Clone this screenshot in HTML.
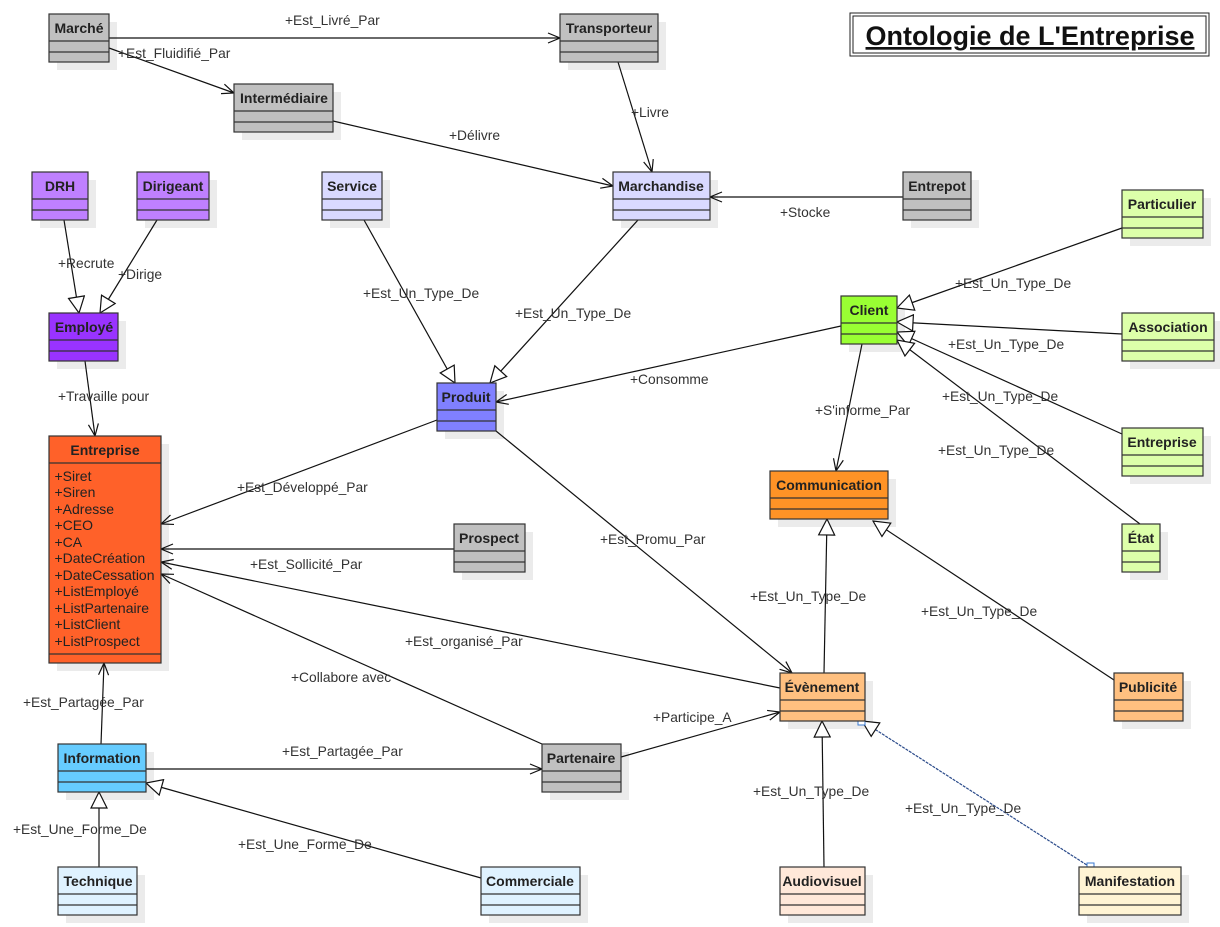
<!DOCTYPE html>
<html><head><meta charset="utf-8"><style>
html,body{margin:0;padding:0;background:#fff;}
svg{display:block;font-family:"Liberation Sans",sans-serif;}
.l{font-size:13.8px;fill:#333;}
.h{font-size:14px;font-weight:bold;fill:#222;text-anchor:middle;}
.a{font-size:14px;fill:#222;}
.e{stroke:#111;stroke-width:1.2;fill:none;}
</style></head><body>
<svg width="1220" height="927" viewBox="0 0 1220 927">
<defs>
<marker id="o" markerUnits="userSpaceOnUse" markerWidth="14" markerHeight="12" refX="13" refY="6" orient="auto"><path d="M1,1 L13,6 L1,11" fill="none" stroke="#111" stroke-width="1.2"/></marker>
<marker id="t" markerUnits="userSpaceOnUse" markerWidth="18" markerHeight="18" refX="17" refY="9" orient="auto"><path d="M1,1 L17,9 L1,17 z" fill="#fff" stroke="#111" stroke-width="1.2"/></marker>
</defs>
<g fill="#ebebeb">
<rect x="57" y="22" width="60" height="48"/><rect x="568" y="22" width="98" height="48"/><rect x="242" y="92" width="99" height="48"/>
<rect x="40" y="180" width="56" height="48"/><rect x="145" y="180" width="72" height="48"/><rect x="330" y="180" width="60" height="48"/>
<rect x="621" y="180" width="97" height="48"/><rect x="911" y="180" width="68" height="48"/><rect x="1130" y="198" width="81" height="48"/>
<rect x="849" y="304" width="56" height="48"/><rect x="1130" y="321" width="92" height="48"/><rect x="57" y="321" width="69" height="48"/>
<rect x="445" y="391" width="59" height="48"/><rect x="57" y="444" width="112" height="227"/><rect x="462" y="532" width="71" height="48"/>
<rect x="778" y="479" width="118" height="48"/><rect x="1130" y="436" width="81" height="48"/><rect x="1130" y="532" width="38" height="48"/>
<rect x="788" y="681" width="85" height="48"/><rect x="1122" y="681" width="69" height="48"/><rect x="66" y="752" width="88" height="48"/>
<rect x="550" y="752" width="79" height="48"/><rect x="66" y="875" width="79" height="48"/><rect x="489" y="875" width="99" height="48"/>
<rect x="788" y="875" width="85" height="48"/><rect x="1087" y="875" width="102" height="48"/>
</g>
<g class="e">
<line x1="109" y1="38" x2="560" y2="38" marker-end="url(#o)"/>
<line x1="109" y1="48" x2="234" y2="93" marker-end="url(#o)"/>
<line x1="333" y1="121" x2="613" y2="186" marker-end="url(#o)"/>
<line x1="618" y1="62" x2="652" y2="172" marker-end="url(#o)"/>
<line x1="903" y1="197" x2="710" y2="197" marker-end="url(#o)"/>
<line x1="64" y1="220" x2="79" y2="313" marker-end="url(#t)"/>
<line x1="157" y1="220" x2="100" y2="313" marker-end="url(#t)"/>
<line x1="364" y1="220" x2="455" y2="383" marker-end="url(#t)"/>
<line x1="638" y1="220" x2="490" y2="383" marker-end="url(#t)"/>
<line x1="841" y1="326" x2="496" y2="402" marker-end="url(#o)"/>
<line x1="1122" y1="228" x2="897" y2="308" marker-end="url(#t)"/>
<line x1="1122" y1="334" x2="897" y2="322" marker-end="url(#t)"/>
<line x1="1122" y1="434" x2="897" y2="332" marker-end="url(#t)"/>
<line x1="1140" y1="524" x2="897" y2="340" marker-end="url(#t)"/>
<line x1="862" y1="344" x2="836" y2="471" marker-end="url(#o)"/>
<line x1="85" y1="361" x2="95" y2="436" marker-end="url(#o)"/>
<line x1="437" y1="420" x2="161" y2="524" marker-end="url(#o)"/>
<line x1="454" y1="549" x2="161" y2="549" marker-end="url(#o)"/>
<line x1="780" y1="688" x2="161" y2="562" marker-end="url(#o)"/>
<line x1="542" y1="744" x2="161" y2="574" marker-end="url(#o)"/>
<line x1="496" y1="431" x2="792" y2="673" marker-end="url(#o)"/>
<line x1="824" y1="673" x2="827" y2="519" marker-end="url(#t)"/>
<line x1="1114" y1="680" x2="873" y2="521" marker-end="url(#t)"/>
<line x1="101" y1="744" x2="104" y2="663" marker-end="url(#o)"/>
<line x1="146" y1="769" x2="542" y2="769" marker-end="url(#o)"/>
<line x1="621" y1="757" x2="780" y2="712" marker-end="url(#o)"/>
<line x1="99" y1="867" x2="99" y2="792" marker-end="url(#t)"/>
<line x1="481" y1="878" x2="146" y2="783" marker-end="url(#t)"/>
<line x1="824" y1="867" x2="822" y2="721" marker-end="url(#t)"/>
<line x1="1090" y1="867" x2="862" y2="721" marker-end="url(#t)" stroke="#2a4a8a" stroke-dasharray="3,1"/>
</g>
<rect x="858" y="718" width="7" height="7" fill="#fff" stroke="#3a7ad0"/>
<rect x="1087" y="863" width="7" height="7" fill="#fff" stroke="#3a7ad0"/>
<g class="l">
<text x="285" y="25">+Est_Livré_Par</text>
<text x="118" y="58">+Est_Fluidifié_Par</text>
<text x="449" y="140">+Délivre</text>
<text x="631" y="117">+Livre</text>
<text x="780" y="217">+Stocke</text>
<text x="58" y="268">+Recrute</text>
<text x="118" y="279">+Dirige</text>
<text x="363" y="298">+Est_Un_Type_De</text>
<text x="515" y="318">+Est_Un_Type_De</text>
<text x="630" y="384">+Consomme</text>
<text x="955" y="288">+Est_Un_Type_De</text>
<text x="948" y="349">+Est_Un_Type_De</text>
<text x="942" y="401">+Est_Un_Type_De</text>
<text x="938" y="455">+Est_Un_Type_De</text>
<text x="815" y="415">+S'informe_Par</text>
<text x="58" y="401">+Travaille pour</text>
<text x="237" y="492">+Est_Développé_Par</text>
<text x="250" y="569">+Est_Sollicité_Par</text>
<text x="405" y="646">+Est_organisé_Par</text>
<text x="291" y="682">+Collabore avec</text>
<text x="600" y="544">+Est_Promu_Par</text>
<text x="750" y="601">+Est_Un_Type_De</text>
<text x="921" y="616">+Est_Un_Type_De</text>
<text x="23" y="707">+Est_Partagée_Par</text>
<text x="282" y="756">+Est_Partagée_Par</text>
<text x="653" y="722">+Participe_A</text>
<text x="13" y="834">+Est_Une_Forme_De</text>
<text x="238" y="849">+Est_Une_Forme_De</text>
<text x="753" y="796">+Est_Un_Type_De</text>
<text x="905" y="813">+Est_Un_Type_De</text>
</g>
<g stroke="#333" stroke-width="1.2">
<g fill="#c0c0c0"><rect x="49" y="14" width="60" height="48"/><path d="M49,41H109M49,52H109"/></g>
<g fill="#c0c0c0"><rect x="560" y="14" width="98" height="48"/><path d="M560,41H658M560,52H658"/></g>
<g fill="#c0c0c0"><rect x="234" y="84" width="99" height="48"/><path d="M234,111H333M234,122H333"/></g>
<g fill="#bf80ff"><rect x="32" y="172" width="56" height="48"/><path d="M32,199H88M32,210H88"/></g>
<g fill="#bf80ff"><rect x="137" y="172" width="72" height="48"/><path d="M137,199H209M137,210H209"/></g>
<g fill="#d9d9ff"><rect x="322" y="172" width="60" height="48"/><path d="M322,199H382M322,210H382"/></g>
<g fill="#d9d9ff"><rect x="613" y="172" width="97" height="48"/><path d="M613,199H710M613,210H710"/></g>
<g fill="#c0c0c0"><rect x="903" y="172" width="68" height="48"/><path d="M903,199H971M903,210H971"/></g>
<g fill="#ddffaa"><rect x="1122" y="190" width="81" height="48"/><path d="M1122,217H1203M1122,228H1203"/></g>
<g fill="#99ff33"><rect x="841" y="296" width="56" height="48"/><path d="M841,323H897M841,334H897"/></g>
<g fill="#ddffaa"><rect x="1122" y="313" width="92" height="48"/><path d="M1122,340H1214M1122,351H1214"/></g>
<g fill="#9933ff"><rect x="49" y="313" width="69" height="48"/><path d="M49,340H118M49,351H118"/></g>
<g fill="#8080ff"><rect x="437" y="383" width="59" height="48"/><path d="M437,410H496M437,421H496"/></g>
<g fill="#ff6129"><rect x="49" y="436" width="112" height="227"/><path d="M49,463H161M49,654H161"/></g>
<g fill="#c0c0c0"><rect x="454" y="524" width="71" height="48"/><path d="M454,551H525M454,562H525"/></g>
<g fill="#ff9326"><rect x="770" y="471" width="118" height="48"/><path d="M770,498H888M770,509H888"/></g>
<g fill="#ddffaa"><rect x="1122" y="428" width="81" height="48"/><path d="M1122,455H1203M1122,466H1203"/></g>
<g fill="#ddffaa"><rect x="1122" y="524" width="38" height="48"/><path d="M1122,551H1160M1122,562H1160"/></g>
<g fill="#ffc080"><rect x="780" y="673" width="85" height="48"/><path d="M780,700H865M780,711H865"/></g>
<g fill="#ffc080"><rect x="1114" y="673" width="69" height="48"/><path d="M1114,700H1183M1114,711H1183"/></g>
<g fill="#66ccff"><rect x="58" y="744" width="88" height="48"/><path d="M58,771H146M58,782H146"/></g>
<g fill="#c0c0c0"><rect x="542" y="744" width="79" height="48"/><path d="M542,771H621M542,782H621"/></g>
<g fill="#dff2ff"><rect x="58" y="867" width="79" height="48"/><path d="M58,894H137M58,905H137"/></g>
<g fill="#dff2ff"><rect x="481" y="867" width="99" height="48"/><path d="M481,894H580M481,905H580"/></g>
<g fill="#ffe8d9"><rect x="780" y="867" width="85" height="48"/><path d="M780,894H865M780,905H865"/></g>
<g fill="#fff4d4"><rect x="1079" y="867" width="102" height="48"/><path d="M1079,894H1181M1079,905H1181"/></g>
</g>
<g class="h">
<text x="79" y="33">Marché</text>
<text x="609" y="33">Transporteur</text>
<text x="284" y="103">Intermédiaire</text>
<text x="60" y="191">DRH</text>
<text x="173" y="191">Dirigeant</text>
<text x="352" y="191">Service</text>
<text x="661" y="191">Marchandise</text>
<text x="937" y="191">Entrepot</text>
<text x="1162" y="209">Particulier</text>
<text x="869" y="315">Client</text>
<text x="1168" y="332">Association</text>
<text x="84" y="332">Employé</text>
<text x="466" y="402">Produit</text>
<text x="105" y="455">Entreprise</text>
<text x="489" y="543">Prospect</text>
<text x="829" y="490">Communication</text>
<text x="1162" y="447">Entreprise</text>
<text x="1141" y="543">État</text>
<text x="822" y="692">Évènement</text>
<text x="1148" y="692">Publicité</text>
<text x="102" y="763">Information</text>
<text x="581" y="763">Partenaire</text>
<text x="98" y="886">Technique</text>
<text x="530" y="886">Commerciale</text>
<text x="822" y="886">Audiovisuel</text>
<text x="1130" y="886">Manifestation</text>
</g>
<g class="a">
<text x="54.5" y="481">+Siret</text>
<text x="54.5" y="497">+Siren</text>
<text x="54.5" y="514">+Adresse</text>
<text x="54.5" y="530">+CEO</text>
<text x="54.5" y="547">+CA</text>
<text x="54.5" y="563">+DateCréation</text>
<text x="54.5" y="580">+DateCessation</text>
<text x="54.5" y="596">+ListEmployé</text>
<text x="54.5" y="613">+ListPartenaire</text>
<text x="54.5" y="629">+ListClient</text>
<text x="54.5" y="646">+ListProspect</text>
</g>
<rect x="850" y="13" width="359" height="43" fill="#fff" stroke="#222" stroke-width="1"/>
<rect x="853" y="16" width="353" height="37" fill="none" stroke="#222" stroke-width="1"/>
<text x="1030" y="45" text-anchor="middle" font-size="27" font-weight="bold" fill="#111" text-decoration="underline">Ontologie de L'Entreprise</text>
</svg>
</body></html>
